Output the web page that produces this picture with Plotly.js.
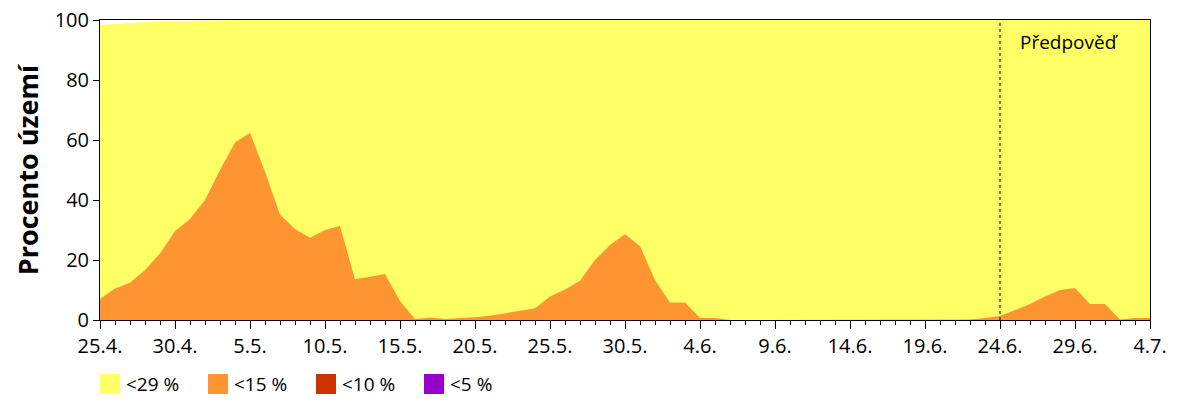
<!DOCTYPE html>
<html>
<head>
<meta charset="utf-8">
<script src="https://cdn.plot.ly/plotly-3.0.1.min.js"></script>
<style>html,body{margin:0;padding:0;background:#fff;}#chart{width:1200px;height:400px;}</style>
</head>
<body>
<div id="chart"></div>
<script>
// Days 25.4. – 4.7.
const dates = [
 "2024-04-25","2024-04-26","2024-04-27","2024-04-28","2024-04-29","2024-04-30",
 "2024-05-01","2024-05-02","2024-05-03","2024-05-04","2024-05-05","2024-05-06","2024-05-07","2024-05-08","2024-05-09","2024-05-10",
 "2024-05-11","2024-05-12","2024-05-13","2024-05-14","2024-05-15","2024-05-16","2024-05-17","2024-05-18","2024-05-19","2024-05-20",
 "2024-05-21","2024-05-22","2024-05-23","2024-05-24","2024-05-25","2024-05-26","2024-05-27","2024-05-28","2024-05-29","2024-05-30","2024-05-31",
 "2024-06-01","2024-06-02","2024-06-03","2024-06-04","2024-06-05","2024-06-06","2024-06-07","2024-06-08","2024-06-09","2024-06-10",
 "2024-06-11","2024-06-12","2024-06-13","2024-06-14","2024-06-15","2024-06-16","2024-06-17","2024-06-18","2024-06-19","2024-06-20",
 "2024-06-21","2024-06-22","2024-06-23","2024-06-24","2024-06-25","2024-06-26","2024-06-27","2024-06-28","2024-06-29","2024-06-30",
 "2024-07-01","2024-07-02","2024-07-03","2024-07-04"
];
// top of the "<29 %" (yellow) area, percent
const below29 = [
 98.3,98.7,98.9,99.3,99.5,99.6,99.7,100,100,100,
 100,100,100,100,100,100,100,100,100,99.8,
 99.8,100,100,100,100,100,100,100,100,100,
 100,100,100,100,100,100,100,100,100,100,
 100,100,100,100,100,100,100,100,100,100,
 100,100,100,100,100,100,100,100,100,100,
 100,100,100,100,100,100,100,100,100,100,100
];
// "<15 %" (orange) area, percent
const below15 = [
 7,10.5,12.4,16.7,22.2,29.7,33.7,40,50,59.2,
 62.4,49.4,35.2,30.3,27.4,30,31.3,13.6,14.4,15.3,
 6.3,0.3,0.8,0.3,0.7,0.9,1.4,2.2,3,3.9,
 7.8,10.2,13.1,20,25,28.6,24.7,13.3,5.8,5.8,
 0.7,0.7,0,0,0.2,0.2,0.2,0,0,0,
 0,0,0,0,0,0,0.2,0.2,0.2,0.7,
 1.3,3.3,5.3,7.8,10,10.7,5.3,5.3,0.2,0.7,0.7
];
const tickDates = ["2024-04-25","2024-04-30","2024-05-05","2024-05-10","2024-05-15","2024-05-20","2024-05-25","2024-05-30","2024-06-04","2024-06-09","2024-06-14","2024-06-19","2024-06-24","2024-06-29","2024-07-04"];
const tickLabels = ["25.4.","30.4.","5.5.","10.5.","15.5.","20.5.","25.5.","30.5.","4.6.","9.6.","14.6.","19.6.","24.6.","29.6.","4.7."];
const forecastStart = "2024-06-24";
const forecastLabel = "Předpověď";
const legendLabels = ["<29 %","<15 %","<10 %","<5 %"];
const legendColors = ["#FFFF66","#FF9530","#CC3300","#9900CC"];

const FONT = "Open Sans, Noto Sans, DejaVu Sans, sans-serif";

const traces = [
  {x: dates, y: below29, type: "scatter", mode: "lines", fill: "tozeroy",
   fillcolor: legendColors[0], line: {width: 0, color: legendColors[0]}, name: legendLabels[0],
   showlegend: false, hoverinfo: "x+y"},
  {x: dates, y: below15, type: "scatter", mode: "lines", fill: "tozeroy",
   fillcolor: legendColors[1], line: {width: 0, color: legendColors[1]}, name: legendLabels[1],
   showlegend: false, hoverinfo: "x+y"}
];

const shapes = [
  {type: "line", xref: "x", yref: "y", x0: forecastStart, x1: forecastStart, y0: 0, y1: 100,
   line: {color: "#000", width: 1, dash: "3px,3px"}}
];
const annotations = [
  {xref: "paper", yref: "paper", x: 0.874, y: 0.927, xanchor: "left", yanchor: "middle",
   text: forecastLabel, showarrow: false, font: {family: FONT, size: 19, color: "#000"}}
];
// custom legend (squares + labels) below the plot
const W = 1050, H = 300, L = 100, T = 20;
legendLabels.forEach((lab, k) => {
  const px = 100 + k * 108;
  shapes.push({type: "rect", xref: "paper", yref: "paper",
    x0: (px - L) / W, x1: (px + 20 - L) / W,
    y0: (T + H - 394) / H, y1: (T + H - 374) / H,
    fillcolor: legendColors[k], line: {width: 0}});
  annotations.push({xref: "paper", yref: "paper", x: (px + 24 - L) / W, y: (T + H - 384) / H,
    xanchor: "left", yanchor: "middle", text: lab, showarrow: false,
    font: {family: FONT, size: 19, color: "#000"}});
});

const layout = {
  width: 1200, height: 400,
  margin: {l: 100, r: 50, t: 20, b: 80},
  paper_bgcolor: "#fff", plot_bgcolor: "#fff",
  showlegend: false,
  font: {family: FONT, size: 20, color: "#000"},
  xaxis: {type: "date", range: [dates[0], dates[dates.length - 1]],
    tickvals: tickDates, ticktext: tickLabels, ticks: "outside", ticklen: 8, tickcolor: "#000",
    showline: true, linecolor: "#000", linewidth: 1, mirror: true, showgrid: false, zeroline: false,
    tickfont: {family: FONT, size: 20, color: "#000"},
    minor: {dtick: 86400000, ticks: "outside", ticklen: 4, tickcolor: "#000", showgrid: false}},
  yaxis: {range: [0, 100], tickvals: [0,20,40,60,80,100], ticks: "outside", ticklen: 6, tickcolor: "#000",
    showline: true, linecolor: "#000", linewidth: 1, mirror: true, showgrid: false, zeroline: false,
    tickfont: {family: FONT, size: 20, color: "#000"},
    title: {text: "<b>Procento území</b>", font: {family: FONT, size: 27, color: "#000"}, standoff: 8}},
  shapes: shapes,
  annotations: annotations
};

Plotly.newPlot("chart", traces, layout, {staticPlot: true, displayModeBar: false});
</script>
</body>
</html>
